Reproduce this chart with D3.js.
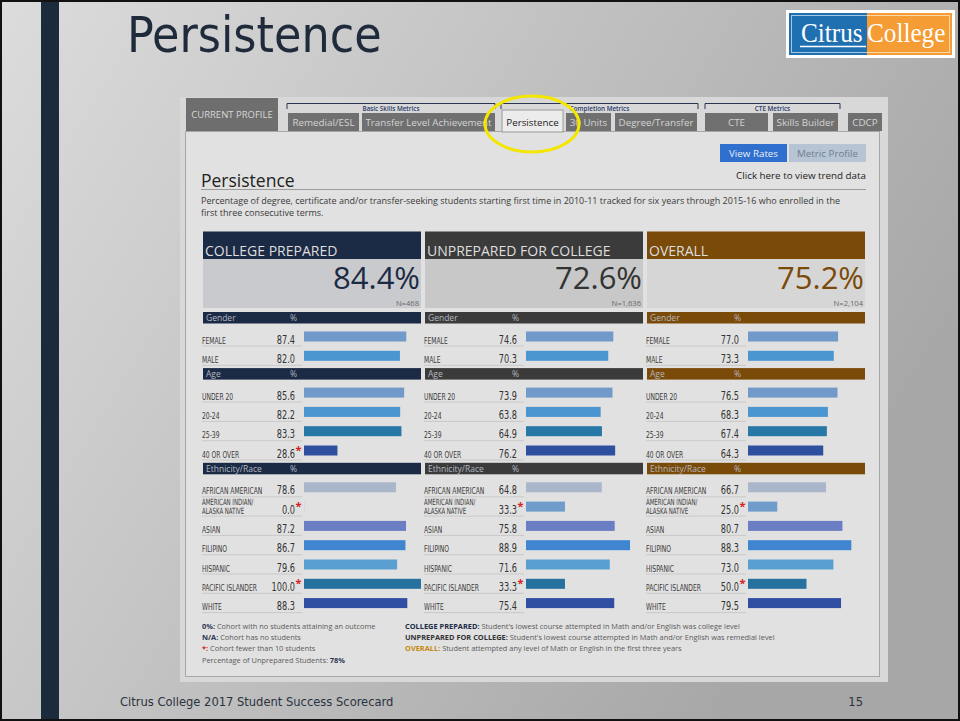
<!DOCTYPE html>
<html>
<head>
<meta charset="utf-8">
<script src="https://cdn.jsdelivr.net/npm/d3@7"></script>
<style>
  body { margin: 0; background: #fff; }
  svg { display: block; }
</style>
</head>
<body>
<svg id="slide"></svg>
<script>
const groupNames = ["COLLEGE PREPARED", "UNPREPARED FOR COLLEGE", "OVERALL"];
const headlineRates = [84.4, 72.6, 75.2];
const cohortSizes = ["468", "1,636", "2,104"];

const sectionNames = ["Gender", "Age", "Ethnicity/Race"];
const sectionRowCounts = [2, 4, 7];
const rowLabels = [
    "FEMALE", "MALE",
    "UNDER 20", "20-24", "25-39", "40 OR OVER",
    "AFRICAN AMERICAN", "AMERICAN INDIAN/|ALASKA NATIVE", "ASIAN", "FILIPINO",
    "HISPANIC", "PACIFIC ISLANDER", "WHITE"
];

const preparedRates   = [87.4, 82.0, 85.6, 82.2, 83.3, 28.6, 78.6, 0.0, 87.2, 86.7, 79.6, 100.0, 88.3];
const unpreparedRates = [74.6, 70.3, 73.9, 63.8, 64.9, 76.2, 64.8, 33.3, 75.8, 88.9, 71.6, 33.3, 75.4];
const overallRates    = [77.0, 73.3, 76.5, 68.3, 67.4, 64.3, 66.7, 25.0, 80.7, 88.3, 73.0, 50.0, 79.5];

// rows flagged with * (cohort fewer than 10 students)
const preparedSmall   = [5, 7, 11];
const unpreparedSmall = [7, 11];
const overallSmall    = [7, 11];

const tabNames = ["Remedial/ESL", "Transfer Level Achievement", "Persistence", "30 Units", "Degree/Transfer", "CTE", "Skills Builder", "CDCP"];
const tabGroups = ["Basic Skills Metrics", "Completion Metrics", "CTE Metrics"];

// ---- styling ----
const barColors = ["#7199c9", "#4b95d0", "#7199c9", "#4b95d0", "#2778a6", "#2f4f9f",
                   "#aab7cb", "#6f9ccb", "#6c7ec3", "#3f85cf", "#5a9fd2", "#26719e", "#2f4da1"];
const headColors = ["#1b2a45", "#3b3b3b", "#7a4a08"];
const boxColors = ["#c9cacd", "#c8c8c8", "#d6d6d6"];
const pctColors = ["#1b2a45", "#333333", "#7a4a08"];

const W = 960, H = 721;
const uiFont = "'Open Sans', 'DejaVu Sans', sans-serif";
const slideFont = "'DejaVu Sans Condensed', 'DejaVu Sans', sans-serif";
const narrowFont = "'DejaVu Sans Condensed', 'DejaVu Sans', sans-serif";

const svg = d3.select("#slide").attr("width", W).attr("height", H);
const defs = svg.append("defs");

const bg = defs.append("linearGradient").attr("id", "slideBg")
    .attr("x1", 0).attr("y1", 0).attr("x2", 1).attr("y2", 0.45);
bg.append("stop").attr("offset", 0).attr("stop-color", "#dcdcdc");
bg.append("stop").attr("offset", 1).attr("stop-color", "#a7a7a7");

svg.append("rect").attr("width", W).attr("height", H).attr("fill", "url(#slideBg)");
svg.append("rect").attr("x", 41).attr("y", 0).attr("width", 18).attr("height", H).attr("fill", "#1c2b3c");

// slide title and footer
svg.append("text").attr("x", 127).attr("y", 52)
    .attr("font-family", slideFont).attr("font-size", 49.5).attr("fill", "#1f2b3a")
    .text("Persistence");
svg.append("text").attr("x", 120).attr("y", 706)
    .attr("font-family", slideFont).attr("font-size", 12.8).attr("fill", "#2a3340")
    .text("Citrus College 2017 Student Success Scorecard");
svg.append("text").attr("x", 863).attr("y", 706).attr("text-anchor", "end")
    .attr("font-family", slideFont).attr("font-size", 12.8).attr("fill", "#2a3340")
    .text("15");

// logo
const logo = svg.append("g");
logo.append("rect").attr("x", 786).attr("y", 10).attr("width", 169).attr("height", 48).attr("fill", "#fff");
logo.append("rect").attr("x", 789).attr("y", 13).attr("width", 78).attr("height", 42).attr("fill", "#1f70b1");
logo.append("rect").attr("x", 867).attr("y", 13).attr("width", 85).attr("height", 42).attr("fill", "#f59c35");
logo.append("rect").attr("x", 791.5).attr("y", 15.5).attr("width", 158).attr("height", 37)
    .attr("fill", "none").attr("stroke", "#fff").attr("stroke-opacity", 0.6);
[["Citrus", 801], ["College", 867]].forEach(([t, x]) => {
    logo.append("text").attr("transform", `translate(${x},42) scale(0.9,1)`)
        .attr("font-family", "'Liberation Serif', serif").attr("font-size", 28).attr("fill", "#fff")
        .text(t);
});
logo.append("line").attr("x1", 800).attr("x2", 866).attr("y1", 46.5).attr("y2", 46.5)
    .attr("stroke", "#fff").attr("stroke-width", 1.5);

// ---- screenshot frame ----
const shot = svg.append("g");
shot.append("rect").attr("x", 180).attr("y", 97).attr("width", 708).attr("height", 585).attr("fill", "#d8d8d8");
shot.append("rect").attr("x", 185.5).attr("y", 131.5).attr("width", 694).attr("height", 545)
    .attr("fill", "#e1e1e1").attr("stroke", "#a6a6a6");

// tabs
shot.append("rect").attr("x", 186).attr("y", 98).attr("width", 92).attr("height", 33).attr("fill", "#6e6e6e");
shot.append("text").attr("x", 232).attr("y", 118).attr("text-anchor", "middle")
    .attr("font-family", uiFont).attr("font-size", 9.5).attr("fill", "#d6d6d6").text("CURRENT PROFILE");

const tabSpans = [[288, 359], [362, 495], [502, 563], [566, 611], [615, 697], [705, 768], [773, 838], [848, 882]];
const tabs = shot.selectAll(".tab").data(tabNames).join("g").attr("class", "tab");
tabs.append("rect")
    .attr("x", (d, i) => tabSpans[i][0])
    .attr("y", d => d === "Persistence" ? 110 : 113)
    .attr("width", (d, i) => tabSpans[i][1] - tabSpans[i][0])
    .attr("height", d => d === "Persistence" ? 22 : 18)
    .attr("fill", d => d === "Persistence" ? "#ececec" : "#707070")
    .attr("stroke", d => d === "Persistence" ? "#9a9a9a" : "none");
tabs.append("text")
    .attr("x", (d, i) => (tabSpans[i][0] + tabSpans[i][1]) / 2)
    .attr("y", 126)
    .attr("text-anchor", "middle")
    .attr("font-family", uiFont).attr("font-size", 9.8)
    .attr("fill", d => d === "Persistence" ? "#222" : "#d4d4d4")
    .text(d => d);

const bracketSpans = [[287, 495], [501, 698], [705, 840]];
const brackets = shot.selectAll(".bracket").data(tabGroups).join("g").attr("class", "bracket");
brackets.append("path")
    .attr("d", (d, i) => `M${bracketSpans[i][0]},109V103.5H${bracketSpans[i][1]}V109`)
    .attr("fill", "none").attr("stroke", "#2a3550").attr("stroke-width", 1);
brackets.append("text")
    .attr("x", (d, i) => (bracketSpans[i][0] + bracketSpans[i][1]) / 2)
    .attr("y", 110.5).attr("text-anchor", "middle")
    .attr("font-family", uiFont).attr("font-size", 6.3).attr("font-weight", 600)
    .attr("fill", "#2a3a6a").text(d => d);

// buttons
shot.append("rect").attr("x", 720).attr("y", 144).attr("width", 67).attr("height", 18).attr("fill", "#2f6fce");
shot.append("text").attr("x", 753.5).attr("y", 157).attr("text-anchor", "middle")
    .attr("font-family", uiFont).attr("font-size", 9.8).attr("fill", "#e8eef8").text("View Rates");
shot.append("rect").attr("x", 789).attr("y", 144).attr("width", 77).attr("height", 18).attr("fill", "#b6c4d4");
shot.append("text").attr("x", 827.5).attr("y", 157).attr("text-anchor", "middle")
    .attr("font-family", uiFont).attr("font-size", 9.8).attr("fill", "#6f7f92").text("Metric Profile");
shot.append("text").attr("x", 866).attr("y", 179).attr("text-anchor", "end")
    .attr("font-family", uiFont).attr("font-size", 9.8).attr("fill", "#222").text("Click here to view trend data");

// heading + description
shot.append("text").attr("x", 201).attr("y", 187)
    .attr("font-family", uiFont).attr("font-size", 17.5).attr("fill", "#222").text("Persistence");
shot.append("line").attr("x1", 201).attr("x2", 866).attr("y1", 189.5).attr("y2", 189.5)
    .attr("stroke", "#9c9c9c");
const descLines = [
    "Percentage of degree, certificate and/or transfer-seeking students starting first time in 2010-11 tracked for six years through 2015-16 who enrolled in the",
    "first three consecutive terms."
];
descLines.forEach((line, i) => {
    shot.append("text").attr("x", 201).attr("y", 203.5 + i * 12.4)
        .attr("font-family", uiFont).attr("font-size", 9).attr("fill", "#3a3a3a")
        .text(line);
});

// ---- the three scorecard columns ----
const colX = [203, 425, 647];
const colW = 218;
const valueRight = 92;
const barStart = 101;
const xBar = d3.scaleLinear().domain([0, 100]).range([0, 117]);

// vertical layout: section bars followed by their rows
const sectionTop = [];
const rowTop = [];
let yCursor = 312;
sectionNames.forEach((name, si) => {
    sectionTop.push(yCursor);
    yCursor += 11.5 + 8;
    for (let k = 0; k < sectionRowCounts[si]; k++) {
        rowTop.push(yCursor);
        yCursor += 19.3;
    }
    yCursor += 10 + 7.3 - 19.3;
});

const columns = [
    { rates: preparedRates, small: preparedSmall },
    { rates: unpreparedRates, small: unpreparedSmall },
    { rates: overallRates, small: overallSmall }
];

function narrowText(g, x, y, txt, size, anchor, fill) {
    return g.append("text")
        .attr("transform", `translate(${x},${y}) scale(0.7,1)`)
        .attr("text-anchor", anchor)
        .attr("font-family", narrowFont)
        .attr("font-size", size)
        .attr("fill", fill)
        .text(txt);
}

columns.forEach((col, ci) => {
    const g = shot.append("g").attr("transform", `translate(${colX[ci]},0)`);

    // headline block
    g.append("rect").attr("x", 0).attr("y", 231.5).attr("width", colW).attr("height", 27.5).attr("fill", headColors[ci]);
    g.append("text").attr("x", 2).attr("y", 255.5)
        .attr("font-family", uiFont).attr("font-size", 14).attr("fill", "#dedede").text(groupNames[ci]);
    g.append("rect").attr("x", 0).attr("y", 259).attr("width", colW).attr("height", 49).attr("fill", boxColors[ci]);
    g.append("text").attr("x", colW - 1).attr("y", 288.5).attr("text-anchor", "end")
        .attr("font-family", uiFont).attr("font-size", 31).attr("fill", pctColors[ci])
        .text(headlineRates[ci].toFixed(1) + "%");
    g.append("text").attr("x", colW - 2).attr("y", 305.5).attr("text-anchor", "end")
        .attr("font-family", uiFont).attr("font-size", 7.6).attr("fill", "#6a6a6a")
        .text("N=" + cohortSizes[ci]);

    // section bars
    const heads = g.selectAll(".sect").data(sectionNames).join("g").attr("class", "sect");
    heads.append("rect").attr("x", 0).attr("y", (d, i) => sectionTop[i])
        .attr("width", colW).attr("height", 11.5).attr("fill", headColors[ci]);
    heads.append("text").attr("x", 3).attr("y", (d, i) => sectionTop[i] + 9)
        .attr("font-family", uiFont).attr("font-size", 8.5).attr("fill", "#b4b8c0").text(d => d);
    heads.append("text").attr("x", 87).attr("y", (d, i) => sectionTop[i] + 9)
        .attr("font-family", uiFont).attr("font-size", 8.5).attr("fill", "#b4b8c0").text("%");

    // rows
    const rows = g.selectAll(".row").data(col.rates).join("g").attr("class", "row");
    rows.append("line")
        .attr("x1", -1).attr("x2", barStart - 2)
        .attr("y1", (d, i) => rowTop[i] + 14.5).attr("y2", (d, i) => rowTop[i] + 14.5)
        .attr("stroke", "#c9c9c9");
    rows.append("rect")
        .attr("x", barStart)
        .attr("y", (d, i) => rowTop[i])
        .attr("width", d => Math.max(xBar(d), 0.8))
        .attr("height", 10)
        .attr("fill", (d, i) => d === 0 ? "#cfd6e0" : barColors[i]);
    rows.each(function (d, i) {
        const r = d3.select(this);
        const base = rowTop[i] + 12;
        const parts = rowLabels[i].split("|");
        if (parts.length === 1) {
            narrowText(r, -1, base, parts[0], 9.6, "start", "#3c3c3c");
        } else {
            narrowText(r, -1, base - 9, parts[0], 8.6, "start", "#3c3c3c");
            narrowText(r, -1, base, parts[1], 8.6, "start", "#3c3c3c");
        }
        narrowText(r, valueRight, base, d.toFixed(1), 13, "end", "#333");
        if (col.small.includes(i)) {
            r.append("text").attr("x", valueRight + 0.5).attr("y", base - 4)
                .attr("font-family", uiFont).attr("font-size", 11).attr("font-weight", 700)
                .attr("fill", "#d42222").text("*");
        }
    });
});

// ---- footnotes ----
const notesLeft = [
    ["0%:", " Cohort with no students attaining an outcome"],
    ["N/A:", " Cohort has no students"],
    ["*:", " Cohort fewer than 10 students"],
    ["", "Percentage of Unprepared Students: "]
];
const noteY = [629, 640, 651, 662.5];
notesLeft.forEach((n, i) => {
    const t = shot.append("text").attr("x", 202).attr("y", noteY[i])
        .attr("font-family", uiFont).attr("font-size", 7.4).attr("fill", "#5a5a5a");
    t.append("tspan").attr("font-weight", 700).attr("fill", i === 2 ? "#d42222" : "#2a3550").text(n[0]);
    t.append("tspan").text(n[1]);
    if (i === 3) t.append("tspan").attr("font-weight", 700).attr("fill", "#2a3550").text("78%");
});
const notesRight = [
    ["COLLEGE PREPARED:", " Student's lowest course attempted in Math and/or English was college level", "#1b2a45"],
    ["UNPREPARED FOR COLLEGE:", " Student's lowest course attempted in Math and/or English was remedial level", "#333"],
    ["OVERALL:", " Student attempted any level of Math or English in the first three years", "#c48a12"]
];
notesRight.forEach((n, i) => {
    const t = shot.append("text").attr("x", 405).attr("y", noteY[i])
        .attr("font-family", uiFont).attr("font-size", 7.4).attr("fill", "#5a5a5a");
    t.append("tspan").attr("font-weight", 700).attr("fill", n[2]).text(n[0]);
    t.append("tspan").text(n[1]);
});

// highlight ring around the active tab
svg.append("ellipse").attr("cx", 532).attr("cy", 124).attr("rx", 47).attr("ry", 28)
    .attr("fill", "none").attr("stroke", "#f3e600").attr("stroke-width", 3);

// slide border
svg.append("rect").attr("x", 1).attr("y", 1).attr("width", W - 2).attr("height", H - 2)
    .attr("fill", "none").attr("stroke", "#111").attr("stroke-width", 2);
</script>
</body>
</html>
